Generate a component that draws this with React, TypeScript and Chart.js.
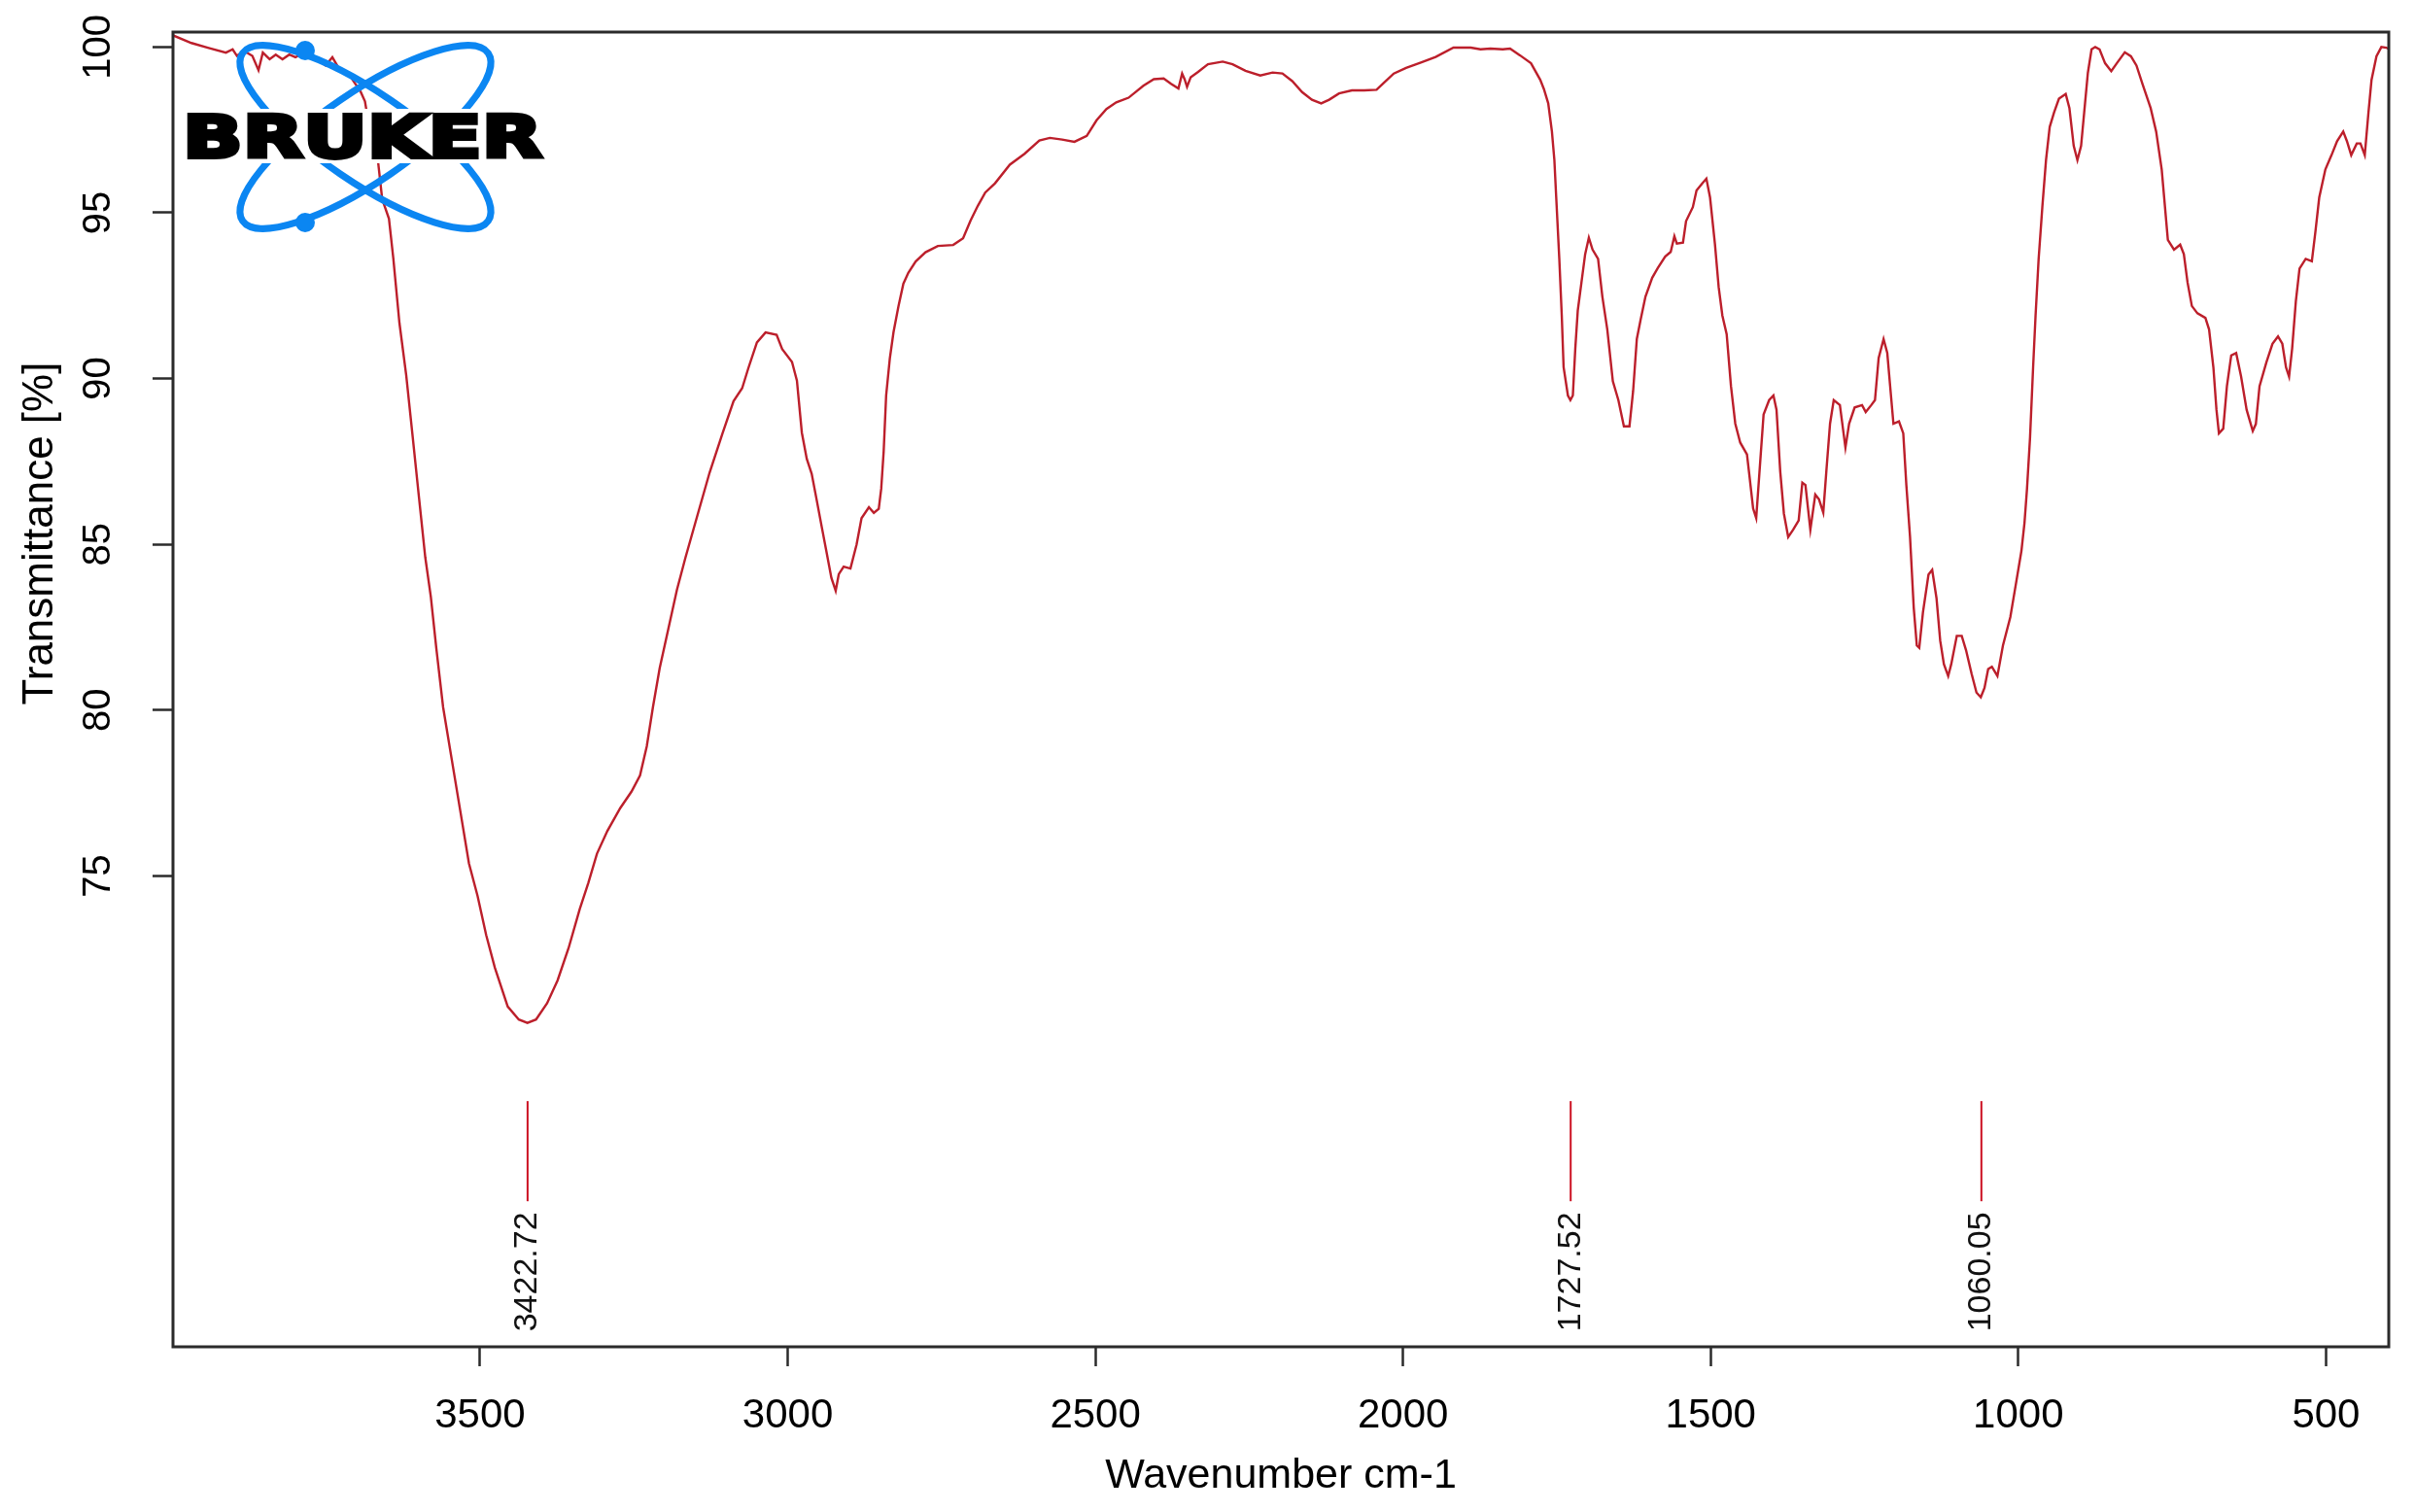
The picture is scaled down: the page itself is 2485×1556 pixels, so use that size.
import React, { useEffect, useRef } from "react";
import { Chart, registerables } from "chart.js";

Chart.register(...registerables);

// ---------------- data ----------------
const wavenumbers: number[] = [
  4000, 3969, 3941, 3913, 3902, 3895, 3884, 3870, 3860, 3853, 3842, 3832, 3821, 3810, 3800, 3786, 3765, 3751, 3740, 3729,
  3715, 3705, 3694, 3687, 3680, 3666, 3659, 3648, 3641, 3631, 3620, 3610, 3599, 3589, 3580, 3571, 3560, 3546, 3532, 3518,
  3504, 3490, 3476, 3455, 3437, 3423, 3409, 3391, 3374, 3356, 3338, 3324, 3310, 3293, 3272, 3254, 3240, 3229, 3219, 3208,
  3194, 3180, 3166, 3148, 3127, 3106, 3088, 3074, 3064, 3050, 3036, 3018, 3009, 2993, 2985, 2977, 2969, 2961, 2953, 2945,
  2937, 2929, 2922, 2917, 2909, 2898, 2888, 2880, 2868, 2860, 2852, 2848, 2844, 2840, 2834, 2828, 2820, 2812, 2804, 2792,
  2776, 2756, 2731, 2715, 2703, 2691, 2679, 2663, 2639, 2615, 2591, 2574, 2554, 2534, 2514, 2498, 2482, 2466, 2446, 2422,
  2405, 2389, 2377, 2365, 2359, 2355, 2351, 2345, 2333, 2317, 2293, 2277, 2256, 2232, 2212, 2196, 2180, 2164, 2148, 2133,
  2120, 2104, 2083, 2063, 2043, 2031, 2015, 1995, 1971, 1947, 1918, 1890, 1874, 1858, 1838, 1826, 1810, 1792, 1777, 1771,
  1764, 1758, 1754, 1751, 1746, 1742, 1739, 1732, 1728, 1724, 1720, 1716, 1710, 1704, 1698, 1692, 1683, 1676, 1668, 1659,
  1650, 1641, 1632, 1626, 1620, 1614, 1606, 1595, 1586, 1574, 1565, 1559, 1555, 1545, 1540, 1529, 1523, 1514, 1507, 1501,
  1493, 1487, 1481, 1474, 1467, 1460, 1452, 1441, 1437, 1431, 1426, 1420, 1414, 1405, 1398, 1393, 1387, 1381, 1374, 1366,
  1357, 1351, 1346, 1338, 1330, 1324, 1317, 1312, 1306, 1300, 1290, 1281, 1275, 1266, 1254, 1248, 1239, 1233, 1227, 1219,
  1213, 1207, 1203, 1194, 1187, 1182, 1176, 1170, 1165, 1161, 1155, 1146, 1140, 1133, 1127, 1121, 1114, 1109, 1100, 1092,
  1085, 1076, 1068, 1061, 1055, 1049, 1043, 1034, 1025, 1013, 1004, 995, 990, 986, 981, 976, 972, 967, 961, 955,
  949, 942, 934, 923, 917, 910, 904, 898, 893, 887, 881, 875, 868, 859, 849, 840, 827, 817, 808, 798,
  785, 776, 767, 763, 757, 747, 737, 731, 725, 718, 709, 696, 690, 683, 678, 674, 667, 661, 654, 646,
  638, 629, 619, 614, 608, 597, 587, 578, 571, 565, 560, 555, 549, 543, 533, 523, 517, 511, 501, 491,
  482, 472, 466, 459, 450, 444, 437, 431, 426, 418, 410, 402, 399,
];

const transmittance: number[] = [
  100.36, 100.12, 99.97, 99.83, 99.93, 99.73, 99.89, 99.73, 99.3, 99.83, 99.63, 99.77, 99.63, 99.77, 99.69, 99.83, 99.63, 99.44, 99.69, 99.34,
  99.24, 98.95, 98.65, 98.36, 97.57, 96.59, 95.41, 94.82, 93.64, 91.68, 90.11, 88.34, 86.38, 84.61, 83.43, 81.86, 80.09, 78.52, 76.95, 75.38,
  74.4, 73.22, 72.24, 71.06, 70.67, 70.57, 70.67, 71.16, 71.85, 72.83, 74.0, 74.79, 75.67, 76.36, 77.05, 77.54, 78.03, 78.91, 80.09, 81.27,
  82.45, 83.63, 84.61, 85.79, 87.16, 88.34, 89.32, 89.71, 90.31, 91.09, 91.39, 91.32, 90.89, 90.5, 89.94, 88.37, 87.58, 87.13, 86.35, 85.56,
  84.78, 83.99, 83.6, 84.1, 84.33, 84.27, 85.0, 85.79, 86.12, 85.95, 86.07, 86.68, 87.81, 89.49, 90.61, 91.4, 92.18, 92.86, 93.19, 93.53,
  93.81, 94.0, 94.03, 94.23, 94.76, 95.21, 95.61, 95.89, 96.45, 96.78, 97.18, 97.26, 97.21, 97.14, 97.32, 97.79, 98.13, 98.33, 98.47, 98.83,
  99.03, 99.05, 98.89, 98.75, 99.2, 99.03, 98.8, 99.09, 99.25, 99.48, 99.56, 99.48, 99.28, 99.14, 99.23, 99.2, 98.97, 98.64, 98.41, 98.3,
  98.41, 98.6, 98.69, 98.69, 98.71, 98.92, 99.2, 99.37, 99.53, 99.7, 99.98, 99.98, 99.93, 99.95, 99.93, 99.95, 99.75, 99.51, 99.01, 98.73,
  98.3, 97.45, 96.59, 95.46, 93.61, 91.9, 90.34, 89.49, 89.35, 89.49, 90.91, 92.05, 92.9, 93.75, 94.25, 93.89, 93.61, 92.47, 91.48, 89.92,
  89.35, 88.56, 88.56, 89.63, 91.2, 91.76, 92.47, 93.04, 93.33, 93.68, 93.82, 94.29, 94.07, 94.1, 94.75, 95.17, 95.67, 95.88, 96.03, 95.46,
  94.04, 92.76, 91.9, 91.34, 89.77, 88.64, 88.07, 87.71, 87.07, 86.08, 85.79, 87.36, 88.92, 89.35, 89.49, 89.06, 87.21, 85.93, 85.22, 85.44,
  85.72, 86.86, 86.79, 85.44, 86.5, 86.36, 85.96, 87.21, 88.64, 89.35, 89.2, 87.92, 88.64, 89.13, 89.2, 88.99, 89.2, 89.35, 90.62, 91.19,
  90.77, 89.49, 88.64, 88.71, 88.35, 86.79, 85.22, 83.09, 81.95, 81.88, 82.95, 84.09, 84.23, 83.38, 82.1, 81.39, 81.03, 81.39, 82.24, 82.24,
  81.81, 81.1, 80.53, 80.39, 80.67, 81.24, 81.31, 81.03, 81.95, 82.81, 83.8, 84.8, 85.65, 86.65, 88.21, 90.34, 91.9, 93.61, 95.17, 96.59,
  97.59, 98.02, 98.44, 98.58, 98.16, 97.02, 96.59, 97.02, 98.02, 99.22, 99.93, 100.0, 99.93, 99.51, 99.27, 99.51, 99.84, 99.72, 99.44, 98.87,
  98.16, 97.45, 96.31, 95.46, 94.18, 93.89, 94.04, 93.75, 92.9, 92.19, 91.97, 91.83, 91.48, 90.34, 89.06, 88.35, 88.49, 89.77, 90.7, 90.77,
  90.06, 89.06, 88.42, 88.63, 89.77, 90.48, 91.05, 91.27, 91.05, 90.34, 90.06, 90.91, 92.33, 93.32, 93.61, 93.54, 94.46, 95.46, 96.31, 96.74,
  97.16, 97.45, 97.16, 96.74, 97.09, 97.09, 96.74, 98.02, 99.01, 99.72, 100.0, 99.98, 99.95,
];

const peakWavenumbers: number[] = [3422.72, 1727.52, 1060.05];
const peakLabels: string[] = ["3422.72", "1727.52", "1060.05"];

const xTickValues: number[] = [3500, 3000, 2500, 2000, 1500, 1000, 500];
const yTickValues: number[] = [75, 80, 85, 90, 95, 100];

const X_MIN = 398;
const X_MAX = 3999;
const Y_MIN = 60.8;
const Y_MAX = 100.45;

const xTitle = "Wavenumber cm-1";
const yTitle = "Transmittance [%]";
const logoText = "BRUKER";

// ---------------- styles ----------------
const FONT = "'Liberation Sans', Arial, Helvetica, sans-serif";
const LINE_COLOR = "#BC1F2B";
const PEAK_COLOR = "#CC1122";
const AXIS_COLOR = "#2b2b2b";
const LOGO_BLUE = "#0B86F2";

// peak marker geometry in data units (transmittance)
const PEAK_LINE_TOP = 68.21;
const PEAK_LINE_BOTTOM = 65.19;
const PEAK_TEXT_START = 61.26;

const framePlugin = {
  id: "frame",
  afterDatasetsDraw(chart: any) {
    const { ctx, chartArea } = chart;
    ctx.save();
    ctx.strokeStyle = AXIS_COLOR;
    ctx.lineWidth = 3;
    ctx.strokeRect(chartArea.left, chartArea.top, chartArea.right - chartArea.left, chartArea.bottom - chartArea.top);
    ctx.restore();
  },
};

const peaksPlugin = {
  id: "peaks",
  afterDatasetsDraw(chart: any) {
    const { ctx } = chart;
    const x = chart.scales.x;
    const y = chart.scales.y;
    ctx.save();
    peakWavenumbers.forEach((w, i) => {
      const px = x.getPixelForValue(w);
      ctx.strokeStyle = PEAK_COLOR;
      ctx.lineWidth = 2;
      ctx.beginPath();
      ctx.moveTo(px, y.getPixelForValue(PEAK_LINE_TOP));
      ctx.lineTo(px, y.getPixelForValue(PEAK_LINE_BOTTOM));
      ctx.stroke();
      ctx.save();
      ctx.translate(px, y.getPixelForValue(PEAK_TEXT_START));
      ctx.rotate(-Math.PI / 2);
      ctx.font = `34px ${FONT}`;
      ctx.fillStyle = "#111";
      ctx.textAlign = "left";
      ctx.textBaseline = "middle";
      ctx.fillText(peakLabels[i], 0, 0);
      ctx.restore();
    });
    ctx.restore();
  },
};

const yTitlePlugin = {
  id: "yTitle",
  afterDraw(chart: any) {
    const { ctx, chartArea } = chart;
    const cy = chartArea.top + 0.3814 * (chartArea.bottom - chartArea.top);
    ctx.save();
    ctx.translate(42, cy);
    ctx.rotate(-Math.PI / 2);
    ctx.font = `44px ${FONT}`;
    ctx.fillStyle = "#000";
    ctx.textAlign = "center";
    ctx.textBaseline = "middle";
    ctx.fillText(yTitle, 0, 0);
    ctx.restore();
  },
};

const logoPlugin = {
  id: "logo",
  afterDraw(chart: any) {
    const { ctx } = chart;
    const cx = 376;
    const cy = 141;
    ctx.save();
    ctx.strokeStyle = LOGO_BLUE;
    ctx.fillStyle = LOGO_BLUE;
    ctx.lineWidth = 7;
    [34.3, -34.3].forEach((deg) => {
      ctx.beginPath();
      ctx.ellipse(cx, cy, 153, 46, (deg * Math.PI) / 180, 0, Math.PI * 2);
      ctx.stroke();
    });
    [
      [314, 52],
      [314, 229],
    ].forEach(([dx, dy]) => {
      ctx.beginPath();
      ctx.arc(dx, dy, 10, 0, Math.PI * 2);
      ctx.fill();
    });
    // white band behind lettering
    ctx.fillStyle = "#fff";
    ctx.fillRect(182, 112, 384, 56);
    // lettering
    ctx.font = `bold 60px 'DejaVu Sans', sans-serif`;
    const w = ctx.measureText(logoText).width;
    ctx.translate(188, 162);
    ctx.scale(370 / w, 1);
    ctx.fillStyle = "#000";
    ctx.strokeStyle = "#000";
    ctx.lineWidth = 4;
    ctx.lineJoin = "miter";
    ctx.textBaseline = "alphabetic";
    ctx.textAlign = "left";
    ctx.strokeText(logoText, 0, 0);
    ctx.fillText(logoText, 0, 0);
    ctx.restore();
  },
};

export default function App() {
  const canvasRef = useRef<HTMLCanvasElement | null>(null);

  useEffect(() => {
    document.body.style.margin = "0";
    const canvas = canvasRef.current;
    if (!canvas) return;
    Chart.defaults.font.family = FONT;
    const points = wavenumbers.map((w, i) => ({ x: w, y: transmittance[i] }));
    const chart = new Chart(canvas, {
      type: "line",
      data: {
        datasets: [
          {
            data: points,
            borderColor: LINE_COLOR,
            borderWidth: 2.4,
            pointRadius: 0,
            tension: 0,
            fill: false,
          },
        ],
      },
      options: {
        animation: false,
        responsive: true,
        maintainAspectRatio: false,
        devicePixelRatio: 1,
        layout: { padding: { top: 33, right: 27, left: 0, bottom: 0 } },
        plugins: { legend: { display: false }, tooltip: { enabled: false } },
        scales: {
          x: {
            type: "linear",
            reverse: true,
            min: X_MIN,
            max: X_MAX,
            position: "bottom",
            afterBuildTicks: (s: any) => {
              s.ticks = xTickValues.map((v) => ({ value: v }));
            },
            afterFit: (s: any) => {
              s.height = 170;
              s.paddingLeft = 0;
              s.paddingRight = 0;
            },
            border: { display: false },
            grid: {
              drawOnChartArea: false,
              drawTicks: true,
              tickLength: 20,
              tickColor: AXIS_COLOR,
              tickWidth: 2.5,
            },
            ticks: {
              autoSkip: false,
              maxRotation: 0,
              minRotation: 0,
              padding: 26,
              color: "#000",
              font: { size: 42, family: FONT },
              callback: (v: any) => String(v),
            },
            title: {
              display: true,
              text: xTitle,
              color: "#000",
              font: { size: 43, family: FONT },
              padding: { top: 0, bottom: 11 },
            },
          },
          y: {
            type: "linear",
            min: Y_MIN,
            max: Y_MAX,
            afterBuildTicks: (s: any) => {
              s.ticks = yTickValues.map((v) => ({ value: v }));
            },
            afterFit: (s: any) => {
              s.width = 178;
              s.paddingTop = 0;
              s.paddingBottom = 0;
            },
            border: { display: false },
            grid: {
              drawOnChartArea: false,
              drawTicks: true,
              tickLength: 21,
              tickColor: AXIS_COLOR,
              tickWidth: 2.5,
            },
            ticks: {
              autoSkip: false,
              minRotation: 90,
              maxRotation: 90,
              crossAlign: "center",
              padding: 22,
              color: "#000",
              font: { size: 40, family: FONT },
              callback: (v: any) => String(v),
            },
            title: { display: false },
          },
        },
      } as any,
      plugins: [framePlugin, peaksPlugin, yTitlePlugin, logoPlugin],
    });
    return () => chart.destroy();
  }, []);

  return (
    <div style={{ position: "relative", width: "2485px", height: "1556px", background: "#fff" }}>
      <canvas ref={canvasRef} />
    </div>
  );
}
